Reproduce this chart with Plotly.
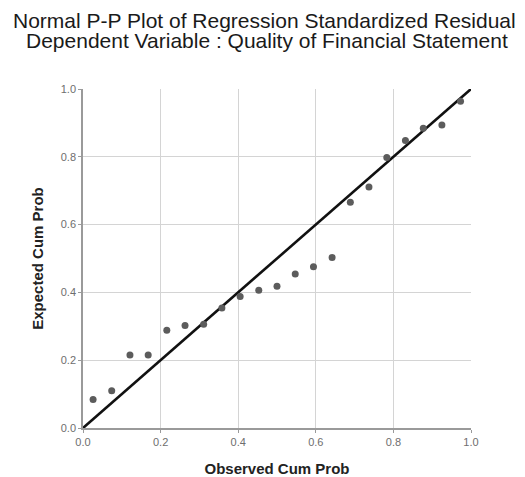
import plotly.graph_objects as go

# Data
observed_cum_prob = [0.026, 0.074, 0.121, 0.168, 0.216, 0.263, 0.311, 0.358, 0.405,
                     0.453, 0.500, 0.547, 0.594, 0.642, 0.689, 0.737, 0.783, 0.831,
                     0.877, 0.925, 0.973]
expected_cum_prob = [0.084, 0.110, 0.215, 0.215, 0.288, 0.302, 0.306, 0.354, 0.388,
                     0.406, 0.418, 0.454, 0.476, 0.503, 0.666, 0.711, 0.798, 0.848,
                     0.884, 0.894, 0.964]
ref_line_x = [0.0, 1.0]
ref_line_y = [0.0, 1.0]
tick_vals = [0.0, 0.2, 0.4, 0.6, 0.8, 1.0]
tick_text = ["0.0", "0.2", "0.4", "0.6", "0.8", "1.0"]

title_line1 = "Normal P-P Plot of Regression Standardized Residual"
title_line2 = "Dependent Variable : Quality of Financial Statement"

fig = go.Figure()
fig.add_trace(go.Scatter(
    x=ref_line_x, y=ref_line_y, mode="lines",
    line=dict(color="#111111", width=2.6), hoverinfo="skip", showlegend=False,
))
fig.add_trace(go.Scatter(
    x=observed_cum_prob, y=expected_cum_prob, mode="markers",
    marker=dict(color="#5c5c5c", size=7), showlegend=False,
))

axis_common = dict(
    range=[0, 1], tickvals=tick_vals, ticktext=tick_text, automargin=False,
    showgrid=True, gridcolor="#d4d4d4", gridwidth=1,
    zeroline=False, showline=True, linecolor="#9a9a9a", linewidth=1.5,
    ticks="outside", ticklen=3, tickcolor="#9a9a9a",
    tickfont=dict(family="Liberation Sans, Arial", size=11, color="#6e6e6e"),
)

# The page body has an 8px default margin, so the figure is sized/offset to compensate
fig.update_layout(
    width=517, height=469,
    margin=dict(l=75, r=54, t=81, b=49, autoexpand=False),
    paper_bgcolor="white", plot_bgcolor="white",
    xaxis=dict(axis_common, title=dict(
        text="<b>Observed Cum Prob</b>", standoff=18,
        font=dict(family="Liberation Sans, Arial", size=15, color="#222222"))),
    yaxis=dict(axis_common, title=dict(
        text="<b>Expected Cum Prob</b>", standoff=14,
        font=dict(family="Liberation Sans, Arial", size=15, color="#222222"))),
    annotations=[
        dict(text=title_line1, xref="paper", yref="paper", x=0.468, y=1.2035,
             xanchor="center", yanchor="middle", showarrow=False,
             font=dict(family="Liberation Sans, Arial", size=21, color="#1a1a1a")),
        dict(text=title_line2, xref="paper", yref="paper", x=0.475, y=1.1445,
             xanchor="center", yanchor="middle", showarrow=False,
             font=dict(family="Liberation Sans, Arial", size=21, color="#1a1a1a")),
    ],
)

fig.write_html("out.html")
